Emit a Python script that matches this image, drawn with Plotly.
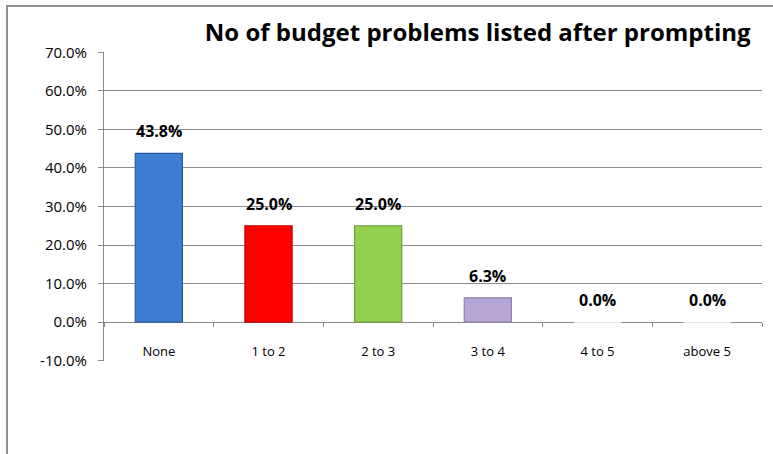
import plotly.graph_objects as go

# Share of respondents by number of budget problems listed after prompting
categories = ["None", "1 to 2", "2 to 3", "3 to 4", "4 to 5", "above 5"]
shares = [43.8, 25.0, 25.0, 6.3, 0.0, 0.0]
bar_colors = ["#3D7ED2", "#FF0000", "#92D050", "#B5A6D4", "#FFFFFF", "#FFFFFF"]
edge_colors = ["#2B5B9C", "#C00000", "#6F9D3C", "#8E81AC", "#FFFFFF", "#FFFFFF"]
y_ticks = [-10, 0, 10, 20, 30, 40, 50, 60, 70]
y_tick_labels = ["-10.0%", "0.0%", "10.0%", "20.0%", "30.0%", "40.0%", "50.0%", "60.0%", "70.0%"]

FONT = "Open Sans"
GRID = "#8C8C8C"
FRAME = "#8F8F8F"

fig = go.Figure()
fig.add_trace(go.Bar(
    x=categories,
    y=shares,
    marker=dict(color=bar_colors, line=dict(color=edge_colors, width=1.2)),
    hoverinfo="x+y",
))

# value labels above each bar
for cat, val in zip(categories, shares):
    fig.add_annotation(
        x=cat, y=val, text=f"<b>{val:.1f}%</b>", showarrow=False,
        yanchor="bottom", yshift=9,
        font=dict(family=FONT, size=16, color="#000000"),
    )

# chart-area frame: left edge and top edge as thin filled strips
fig.add_shape(type="rect", xref="paper", yref="paper",
              x0=-0.1489, x1=-0.1459, y0=-0.31, y1=1.1521,
              fillcolor=FRAME, line=dict(width=0), layer="above")
fig.add_shape(type="rect", xref="paper", yref="paper",
              x0=-0.1489, x1=1.0167, y0=1.1456, y1=1.1521,
              fillcolor=FRAME, line=dict(width=0), layer="above")

fig.update_layout(
    width=773, height=454,
    margin=dict(l=104, r=11, t=52, b=93),
    paper_bgcolor="white", plot_bgcolor="white",
    showlegend=False,
    bargap=0.57,
    font=dict(family=FONT, color="#000000"),
    title=dict(
        text="<b>No of budget problems listed after prompting</b>",
        x=0.568, xref="paper", xanchor="center",
        y=1 - 33 / 454, yref="container", yanchor="middle",
        font=dict(family=FONT, size=24, color="#000000"),
    ),
    xaxis=dict(
        anchor="free", position=0.126,
        showline=False, ticks="outside", tickson="boundaries",
        ticklen=4, tickcolor=GRID, tickwidth=1,
        ticklabelstandoff=20,
        tickfont=dict(family=FONT, size=13),
        showgrid=False, zeroline=False,
    ),
    yaxis=dict(
        range=[-10.1, 70.1], tickvals=y_ticks, ticktext=y_tick_labels,
        showgrid=True, gridcolor=GRID, gridwidth=1,
        zeroline=True, zerolinecolor=GRID, zerolinewidth=1,
        showline=True, linecolor=GRID, linewidth=1,
        ticks="outside", ticklen=5, tickcolor=GRID,
        tickfont=dict(family=FONT, size=15),
        ticklabelstandoff=8,
    ),
)

fig.write_html("out.html", config={"displayModeBar": False})
